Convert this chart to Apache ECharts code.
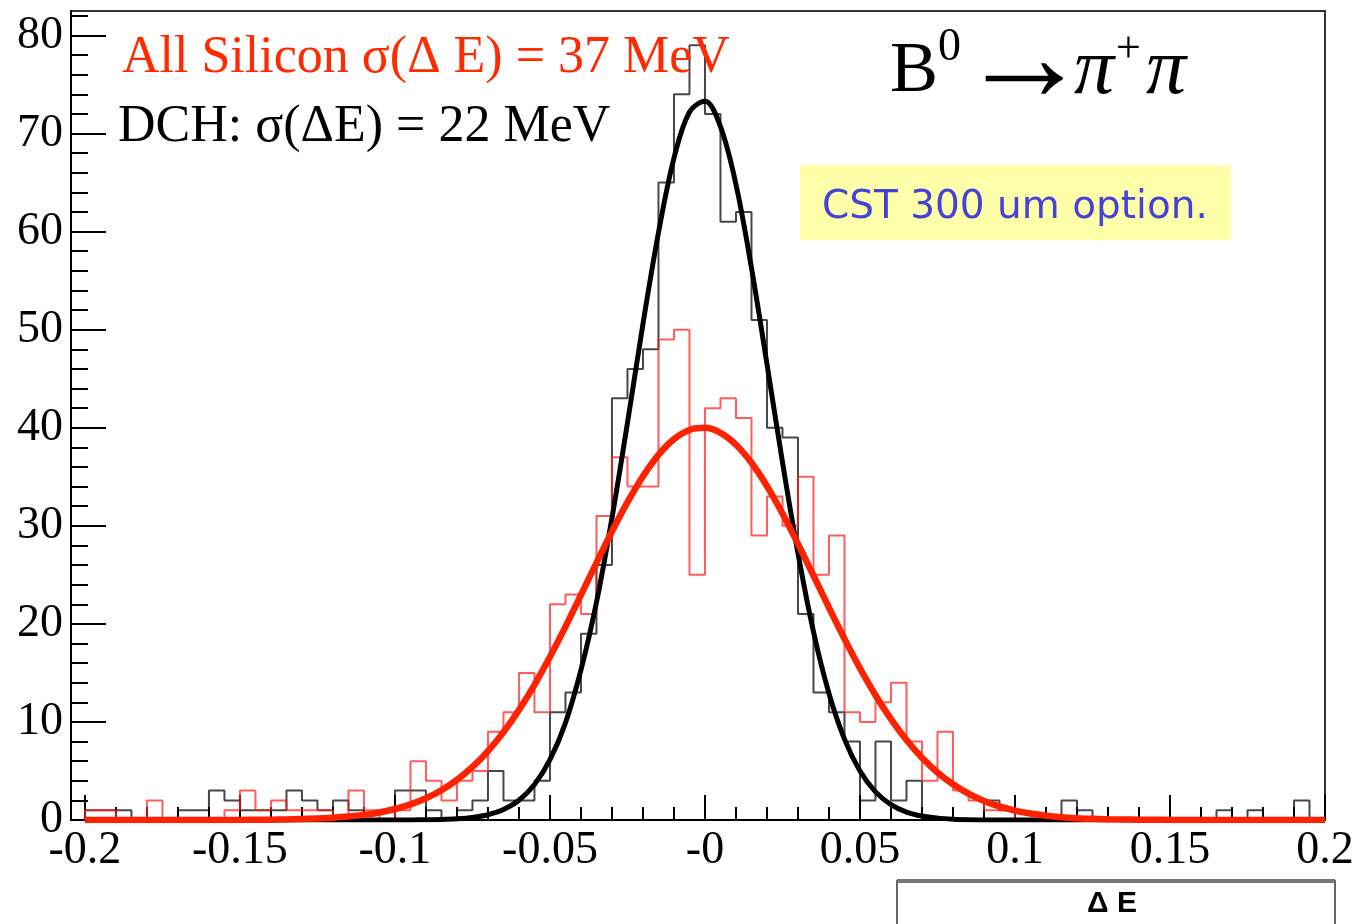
<!DOCTYPE html>
<html>
<head>
<meta charset="utf-8">
<title>Delta E</title>
<script src="https://cdn.jsdelivr.net/npm/echarts@6/dist/echarts.min.js"></script>
<style>
  html, body { margin: 0; padding: 0; background: #fff; }
  #main { width: 1360px; height: 924px; }
</style>
</head>
<body>
<div id="main"></div>
<script>
// histogram binning (80 bins of 5 MeV from -0.2 to 0.2)
var binLow = -0.2;
var binWidth = 0.005;

// DCH histogram counts, bin by bin
var dchCounts = [
  1, 1, 1, 0, 0, 0, 1, 1, 3, 2,
  1, 1, 1, 3, 2, 1, 2, 1, 0, 0,
  3, 3, 1, 0, 1, 2, 5, 2, 2, 4,
  11, 13, 19, 26, 43, 46, 48, 65, 74, 79,
  72, 61, 62, 51, 40, 39, 21, 13, 11, 8,
  2, 8, 2, 4, 0, 0, 0, 0, 2, 1,
  0, 0, 0, 2, 1, 0, 0, 0, 0, 0,
  0, 0, 0, 1, 0, 1, 0, 0, 2, 0
];

// All Silicon histogram counts
var siCounts = [
  1, 1, 0, 0, 2, 0, 0, 0, 0, 1,
  3, 1, 2, 1, 1, 1, 0, 3, 1, 0,
  1, 6, 4, 2, 4, 5, 9, 11, 15, 11,
  22, 23, 21, 31, 37, 34, 34, 49, 50, 25,
  42, 43, 41, 29, 33, 30, 35, 25, 29, 11,
  10, 12, 14, 8, 4, 9, 3, 2, 1, 1,
  0, 0, 0, 0, 0, 0, 0, 0, 0, 0,
  0, 0, 0, 0, 0, 0, 0, 0, 0, 0
];

// fitted curves, one value per bin edge (-0.2 ... 0.2)
var dchFit = [
  0, 0, 0, 0, 0, 0, 0, 0, 0, 0,
  0, 0, 0, 0, 0, 0, 0, 0, 0, 0,
  0, 0.01, 0.02, 0.05, 0.12, 0.26, 0.54, 1.07, 2.01, 3.61,
  6.15, 9.9, 15.3, 22.2, 30.8, 40.5, 50.6, 59.9, 67.5, 72.2,
  73.3, 70.7, 64.8, 56.3, 46.5, 36.5, 27.2, 19.2, 12.9, 8.25,
  5.0, 2.87, 1.57, 0.81, 0.4, 0.19, 0.08, 0.03, 0.01, 0,
  0, 0, 0, 0, 0, 0, 0, 0, 0, 0,
  0, 0, 0, 0, 0, 0, 0, 0, 0, 0,
  0
];
var siFit = [
  0, 0, 0, 0, 0, 0, 0, 0, 0, 0,
  0.01, 0.02, 0.03, 0.06, 0.09, 0.15, 0.23, 0.35, 0.52, 0.77,
  1.12, 1.59, 2.22, 3.04, 4.09, 5.41, 7.03, 8.96, 11.22, 13.79,
  16.64, 19.72, 22.95, 26.22, 29.42, 32.41, 35.06, 37.24, 38.84, 39.77,
  39.99, 39.48, 38.27, 36.43, 34.05, 31.25, 28.16, 24.92, 21.65, 18.47,
  15.47, 12.72, 10.28, 8.15, 6.34, 4.85, 3.64, 2.69, 1.94, 1.38,
  0.96, 0.66, 0.44, 0.29, 0.19, 0.12, 0.08, 0.05, 0.03, 0.02,
  0.01, 0, 0, 0, 0, 0, 0, 0, 0, 0,
  0
];

// axis ticks
var xTickValues = [-0.2, -0.15, -0.1, -0.05, 0, 0.05, 0.1, 0.15, 0.2];
var xTickLabels = ['-0.2', '-0.15', '-0.1', '-0.05', '-0', '0.05', '0.1', '0.15', '0.2'];
var yTickValues = [0, 10, 20, 30, 40, 50, 60, 70, 80];

var myChart = echarts.init(document.getElementById('main'));

var xMin = -0.2045, xMax = 0.2, yMax = 82.5;

var xMinor = [];
for (var i = 0; i <= 40; i++) xMinor.push(Math.round((binLow + i * 0.01) * 1000) / 1000);
var yMinor = [];
for (var j = 0; j <= 82; j += 2) yMinor.push(j);

/**
 * histogram outline as a step line through the bin edges
 */
function histLine(counts) {
  var pts = [[binLow, 0]];
  for (var k = 0; k < counts.length; k++) {
    pts.push([roundX(binLow + k * binWidth), counts[k]]);
  }
  var last = roundX(binLow + counts.length * binWidth);
  pts.push([last, counts[counts.length - 1]]);
  pts.push([last, 0]);
  return pts;
}

function fitLine(vals) {
  return vals.map(function(v, k) { return [roundX(binLow + k * binWidth), v]; });
}

function roundX(x) {
  return Math.round(x * 10000) / 10000;
}

var serif = 'Liberation Serif';

var option = {
  animation: false,
  backgroundColor: '#fff',
  grid: {
    left: 71, right: 35, top: 11, bottom: 104,
    show: true, borderColor: '#333', borderWidth: 2, backgroundColor: '#fff'
  },
  xAxis: [{
    type: 'value', min: xMin, max: xMax, position: 'bottom',
    axisLine: { onZero: false, lineStyle: { color: '#000', width: 2 } },
    axisTick: { inside: true, length: 25, customValues: xTickValues, lineStyle: { color: '#000', width: 2 } },
    axisLabel: {
      customValues: xTickValues, fontFamily: serif, fontSize: 46, color: '#000', margin: 8,
      formatter: function(v) {
        for (var k = 0; k < xTickValues.length; k++) {
          if (Math.abs(xTickValues[k] - v) < 1e-9) return xTickLabels[k];
        }
        return '';
      }
    },
    splitLine: { show: false }
  }, {
    type: 'value', min: xMin, max: xMax, position: 'bottom',
    axisLine: { show: false, onZero: false },
    axisTick: { inside: true, length: 13, customValues: xMinor, lineStyle: { color: '#000', width: 2 } },
    axisLabel: { show: false },
    splitLine: { show: false }
  }],
  yAxis: [{
    type: 'value', min: 0, max: yMax, position: 'left',
    axisLine: { show: true, onZero: false, lineStyle: { color: '#000', width: 2 } },
    axisTick: { inside: true, length: 35, customValues: yTickValues, lineStyle: { color: '#000', width: 2 } },
    axisLabel: { customValues: yTickValues, fontFamily: serif, fontSize: 46, color: '#000', margin: 8 },
    splitLine: { show: false }
  }, {
    type: 'value', min: 0, max: yMax, position: 'left',
    axisLine: { show: false, onZero: false },
    axisTick: { inside: true, length: 17, customValues: yMinor, lineStyle: { color: '#000', width: 2 } },
    axisLabel: { show: false },
    splitLine: { show: false }
  }],
  series: [{
    name: 'DCH', type: 'line', step: 'end', showSymbol: false,
    data: histLine(dchCounts),
    lineStyle: { color: 'rgba(0,0,0,0.72)', width: 2 }
  }, {
    name: 'All Silicon', type: 'line', step: 'end', showSymbol: false,
    data: histLine(siCounts),
    lineStyle: { color: 'rgba(255,30,30,0.72)', width: 2 }
  }, {
    name: 'DCH fit', type: 'line', smooth: 0.35, showSymbol: false,
    data: fitLine(dchFit),
    lineStyle: { color: '#000', width: 5 }
  }, {
    name: 'All Silicon fit', type: 'line', smooth: 0.35, showSymbol: false,
    data: fitLine(siFit),
    lineStyle: { color: '#ff2200', width: 6.5 }
  }],
  graphic: [
    { type: 'text', x: 122, y: 58, z: 100,
      style: { text: 'All Silicon \u03c3(\u0394 E) = 37 MeV', font: '52px ' + serif, fill: '#ff2a00',
               verticalAlign: 'middle', textVerticalAlign: 'middle' } },
    { type: 'text', x: 118, y: 127, z: 100,
      style: { text: 'DCH: \u03c3(\u0394E) = 22 MeV', font: '52px ' + serif, fill: '#000',
               verticalAlign: 'middle', textVerticalAlign: 'middle' } },
    { type: 'text', x: 890, y: 72, z: 100,
      style: { text: 'B', font: '72px ' + serif, fill: '#000', verticalAlign: 'middle', textVerticalAlign: 'middle' } },
    { type: 'text', x: 938, y: 48, z: 100,
      style: { text: '0', font: '46px ' + serif, fill: '#000', verticalAlign: 'middle', textVerticalAlign: 'middle' } },
    { type: 'text', x: 959, y: 66, z: 100,
      style: { text: '\u2192', font: '130px ' + serif, fill: '#000', verticalAlign: 'middle', textVerticalAlign: 'middle' } },
    { type: 'text', x: 1074, y: 72, z: 100,
      style: { text: '\u03c0', font: 'italic 80px ' + serif, fill: '#000', verticalAlign: 'middle', textVerticalAlign: 'middle' } },
    { type: 'text', x: 1116, y: 50, z: 100,
      style: { text: '+', font: '44px ' + serif, fill: '#000', verticalAlign: 'middle', textVerticalAlign: 'middle' } },
    { type: 'text', x: 1146, y: 72, z: 100,
      style: { text: '\u03c0', font: 'italic 80px ' + serif, fill: '#000', verticalAlign: 'middle', textVerticalAlign: 'middle' } },
    { type: 'rect', z: 90, shape: { x: 800, y: 165, width: 431, height: 75 },
      style: { fill: '#ffffaa' } },
    { type: 'text', x: 822, y: 208, z: 100,
      style: { text: 'CST 300 um option.', font: '39px DejaVu Sans', fill: '#4343d6',
               verticalAlign: 'middle', textVerticalAlign: 'middle' } },
    { type: 'rect', z: 90, shape: { x: 897, y: 881, width: 438, height: 60 },
      style: { fill: '#fff', stroke: '#666', lineWidth: 2 } },
    { type: 'line', z: 91, shape: { x1: 897, y1: 881, x2: 1335, y2: 881 },
      style: { stroke: '#777', lineWidth: 4 } },
    { type: 'text', x: 1112, y: 904, z: 100,
      style: { text: '\u0394 E', font: 'bold 30px Liberation Sans', fill: '#000',
               align: 'center', textAlign: 'center', verticalAlign: 'middle', textVerticalAlign: 'middle' } }
  ]
};

myChart.setOption(option);
</script>
</body>
</html>
